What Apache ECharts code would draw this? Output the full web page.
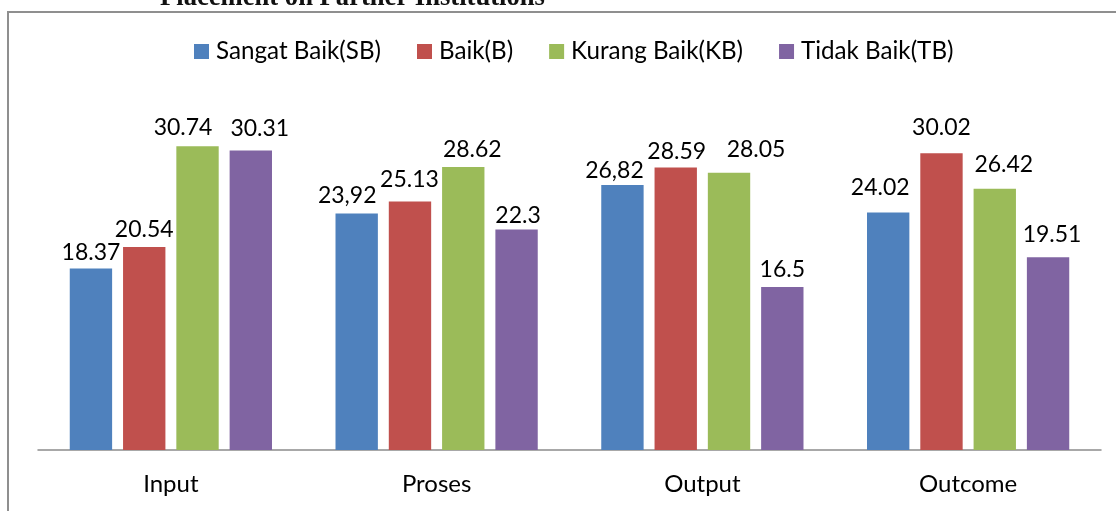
<!DOCTYPE html>
<html>
<head>
<meta charset="utf-8">
<script src="https://cdn.jsdelivr.net/npm/echarts@6/dist/echarts.min.js"></script>
<style>
html,body{margin:0;padding:0;background:#fff;}
#chart{width:1116px;height:511px;}
</style>
</head>
<body>
<div id="chart"></div>
<script>
const categories = ['Input', 'Proses', 'Output', 'Outcome'];
const seriesNames = ['Sangat Baik(SB)', 'Baik(B)', 'Kurang Baik(KB)', 'Tidak Baik(TB)'];
const sangatBaik = [18.37, 23.92, 26.82, 24.02];
const baik = [20.54, 25.13, 28.59, 30.02];
const kurangBaik = [30.74, 28.62, 28.05, 26.42];
const tidakBaik = [30.31, 22.3, 16.5, 19.51];
const sangatBaikLabels = ['18.37', '23,92', '26,82', '24.02'];
const baikLabels = ['20.54', '25.13', '28.59', '30.02'];
const kurangBaikLabels = ['30.74', '28.62', '28.05', '26.42'];
const tidakBaikLabels = ['30.31', '22.3', '16.5', '19.51'];
const titleText = 'Placement on Partner Institutions';

// styling only: small manual nudges of the data labels (as placed in the source chart)
const labelNudges = [
  [[0, 0], [-9.5, -2.5], [-8, 1.5], [-8, -9]],
  [[0, -2], [-0.5, -7], [1, 0], [0, -10.5]],
  [[-14.5, -3], [9, -2], [27, -8], [9, -9]],
  [[9, -6], [1.5, 1.5], [0, -2], [4, -7.5]]
];

const colors = ['#4F81BD', '#C0504D', '#9BBB59', '#8064A2'];
const values = [sangatBaik, baik, kurangBaik, tidakBaik];
const labels = [sangatBaikLabels, baikLabels, kurangBaikLabels, tidakBaikLabels];
const FONT = 'Lato';

const chart = echarts.init(document.getElementById('chart'), null, {renderer: 'canvas'});
chart.setOption({
  animation: false,
  backgroundColor: '#fff',
  color: colors,
  graphic: [
    {
      type: 'rect', z: -1,
      shape: {x: 8, y: 12, width: 1200, height: 600},
      style: {fill: 'none', stroke: '#8f8f8f', lineWidth: 2}
    },
    {
      type: 'text', x: 352.5, y: -2,
      style: {
        text: titleText, align: 'center', verticalAlign: 'middle',
        font: 'bold 26.6px "Liberation Serif", "Times New Roman", serif',
        fill: '#111'
      }
    }
  ],
  legend: {
    data: seriesNames,
    left: 194, top: 39, padding: 0,
    itemWidth: 15, itemHeight: 15, itemGap: 36,
    icon: 'rect',
    textStyle: {fontFamily: FONT, fontSize: 24.2, color: '#000', padding: [0, 0, 0, 2], lineHeight: 25}
  },
  grid: {left: 38, right: 15, top: 54.6, bottom: 61, containLabel: false},
  xAxis: {
    type: 'category', data: categories,
    axisLine: {lineStyle: {color: '#8c8c8c', width: 1.5}},
    axisTick: {show: false},
    axisLabel: {fontFamily: FONT, fontSize: 24, color: '#000', margin: 22}
  },
  yAxis: {type: 'value', min: 0, max: 40, show: false, splitLine: {show: false}},
  series: seriesNames.map((name, i) => ({
    name: name, type: 'bar',
    data: values[i].map((v, j) => ({value: v, label: {offset: labelNudges[i][j]}})),
    barGap: '25.8%', barCategoryGap: '23.9%',
    itemStyle: {color: colors[i]},
    label: {
      show: true, position: 'top', distance: 4,
      fontFamily: FONT, fontSize: 23, color: '#000',
      formatter: p => labels[i][p.dataIndex]
    }
  }))
});
</script>
</body>
</html>
